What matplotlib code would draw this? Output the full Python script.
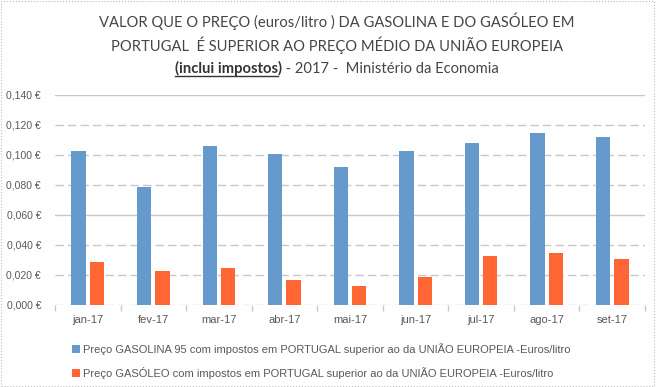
import matplotlib.pyplot as plt
import numpy as np
from matplotlib.patches import Rectangle
from matplotlib.lines import Line2D

meses = ['jan-17', 'fev-17', 'mar-17', 'abr-17', 'mai-17', 'jun-17', 'jul-17', 'ago-17', 'set-17']
gasolina = [0.103, 0.079, 0.106, 0.101, 0.092, 0.103, 0.108, 0.115, 0.112]
gasoleo = [0.029, 0.023, 0.025, 0.017, 0.013, 0.019, 0.033, 0.035, 0.031]
yticks = [0.0, 0.02, 0.04, 0.06, 0.08, 0.10, 0.12, 0.14]

lab_gas = 'Preço GASOLINA 95 com impostos em PORTUGAL superior ao da UNIÃO EUROPEIA -Euros/litro'
lab_die = 'Preço GASÓLEO com impostos em PORTUGAL superior ao da UNIÃO EUROPEIA -Euros/litro'

azul = '#6699cc'
laranja = '#ff6633'
cinza = '#595959'
W, H = 656, 387

plt.rcParams['font.family'] = ['Liberation Sans', 'DejaVu Sans']
tfont = ['Lato', 'DejaVu Sans']

fig = plt.figure(figsize=(W / 100, H / 100), dpi=100)
ax = fig.add_axes([55 / W, 1 - 305 / H, 590 / W, 210 / H])

x = np.arange(len(meses))
ax.bar(x - 0.14, gasolina, 0.22, color=azul, label=lab_gas, zorder=3)
ax.bar(x + 0.14, gasoleo, 0.22, color=laranja, label=lab_die, zorder=3)

ax.set_xlim(-0.5, len(meses) - 0.5)
ax.set_ylim(0, 0.14)
ax.set_yticks(yticks)
ax.set_yticklabels([('%.3f €' % v).replace('.', ',') for v in yticks], color=cinza, fontsize=7.5)
ax.tick_params(axis='y', length=0, pad=10)

# gridlines: mostly dashed, some solid like the original
for v in yticks:
    ls = '-' if v in (0.06, 0.14) else (0, (6, 3))
    ax.axhline(v, color='#c8c8c8', lw=1, ls=ls, zorder=1)

ax.set_xticks(x)
ax.set_xticklabels(meses, color=cinza, fontsize=8)
ax.tick_params(axis='x', which='major', length=0, pad=7)
ax.set_xticks(np.arange(len(meses) + 1) - 0.5, minor=True)
ax.tick_params(axis='x', which='minor', length=4, color='#c8c8c8', width=1)
for t in ax.xaxis.get_minorticklines():
    t.set_linestyle(':')

for s in ax.spines.values():
    s.set_visible(False)

# title
tcor = '#454545'
fs = 10.6
fig.text(337 / W, 1 - 21 / H, 'VALOR QUE O PREÇO (euros/litro ) DA GASOLINA E DO GASÓLEO EM',
         ha='center', va='center', fontsize=fs, color=tcor, family=tfont)
fig.text(337 / W, 1 - 45 / H, 'PORTUGAL  É SUPERIOR AO PREÇO MÉDIO DA UNIÃO EUROPEIA',
         ha='center', va='center', fontsize=fs, color=tcor, family=tfont)

fig.canvas.draw()
r = fig.canvas.get_renderer()
yb = 1 - 73 / H
t1 = fig.text(0, yb, '(inclui impostos)', fontsize=fs, weight='bold',
              color='#333333', va='baseline', family=tfont)
t2 = fig.text(0, yb, ' - 2017 -  Ministério da Economia', fontsize=fs,
              color=tcor, va='baseline', family=tfont)
w1 = t1.get_window_extent(r).width
w2 = t2.get_window_extent(r).width
x0 = 337 - (w1 + w2) / 2
t1.set_x(x0 / W)
t2.set_x((x0 + w1) / W)
fig.add_artist(Line2D([x0 / W, (x0 + w1 - 4) / W], [yb - 3 / H, yb - 3 / H],
                      color='#333333', lw=1, transform=fig.transFigure))

fig.legend(loc='upper left', bbox_to_anchor=(62 / W, 1 - 333 / H), frameon=False,
           fontsize=8, handlelength=0.7, handleheight=0.7, handletextpad=0.3,
           labelspacing=1.1, labelcolor=cinza)

fig.add_artist(Rectangle((0.002, 0.003), 0.995, 0.994, transform=fig.transFigure,
                         fill=False, ec='#bbbbbb', lw=0.8, ls=':'))

fig.savefig('out.png', dpi=100)
